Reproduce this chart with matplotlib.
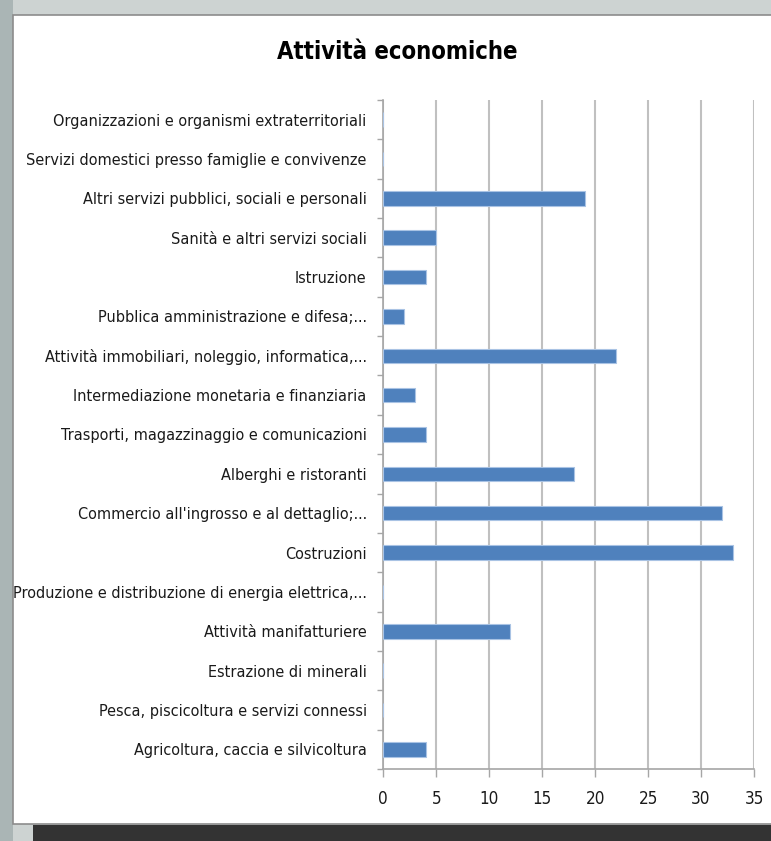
import numpy as np
import matplotlib.pyplot as plt
from matplotlib.patches import Rectangle
from matplotlib import font_manager

# categories from top to bottom as they appear in the chart
categories = [
    "Organizzazioni e organismi extraterritoriali",
    "Servizi domestici presso famiglie e convivenze",
    "Altri servizi pubblici, sociali e personali",
    "Sanità e altri servizi sociali",
    "Istruzione",
    "Pubblica amministrazione e difesa;...",
    "Attività immobiliari, noleggio, informatica,...",
    "Intermediazione monetaria e finanziaria",
    "Trasporti, magazzinaggio e comunicazioni",
    "Alberghi e ristoranti",
    "Commercio all'ingrosso e al dettaglio;...",
    "Costruzioni",
    "Produzione e distribuzione di energia elettrica,...",
    "Attività manifatturiere",
    "Estrazione di minerali",
    "Pesca, piscicoltura e servizi connessi",
    "Agricoltura, caccia e silvicoltura",
]
values = [0, 0, 19, 5, 4, 2, 22, 3, 4, 18, 32, 33, 0, 12, 0, 0, 4]
xticks = [0, 5, 10, 15, 20, 25, 30, 35]

# look for a narrow font, the original uses Calibri
names = {f.name for f in font_manager.fontManager.ttflist}
stretch = 'normal'
fam = 'Lato'
for cand in ['Liberation Sans Narrow', 'DejaVu Sans Condensed']:
    if cand in names:
        fam = cand
        break
else:
    if any(f.name == 'DejaVu Sans' and f.stretch == 'condensed'
           for f in font_manager.fontManager.ttflist):
        fam = 'DejaVu Sans'
        stretch = 'condensed'
plt.rcParams['font.family'] = [fam, 'DejaVu Sans']
plt.rcParams['font.stretch'] = stretch

fig = plt.figure(figsize=(7.71, 8.41), dpi=100)
fig.patch.set_facecolor('#cdd3d2')
W, H = 771.0, 841.0

# find font sizes that give the widths seen in the picture
rend = fig.canvas.get_renderer()
def fit_size(txt, target, weight='normal'):
    t = fig.text(0, 0, txt, fontsize=10, fontweight=weight)
    w = t.get_window_extent(renderer=rend).width
    t.remove()
    return 10 * target / w

lab_size = fit_size(categories[0], 312)
title_size = fit_size('Attività economiche', 239, 'bold')

# foggy left strip
fig.patches.append(Rectangle((0, 0), 13 / W, 1, transform=fig.transFigure,
                             facecolor='#aab5b5', edgecolor='none', zorder=0))
# dark band at the bottom
fig.patches.append(Rectangle((33 / W, 0), 1, 16 / H, transform=fig.transFigure,
                             facecolor='#333333', edgecolor='none', zorder=0))
# white chart panel
fig.patches.append(Rectangle((13 / W, 1 - 824 / H), 1, (824 - 15) / H,
                             transform=fig.transFigure, facecolor='white',
                             edgecolor='#8c8c8c', linewidth=1.2, zorder=1))

ax = fig.add_axes([383.3 / W, 1 - 769 / H, (754 - 383.3) / W, (769 - 100) / H])
ax.set_zorder(2)
ax.patch.set_alpha(0)

y = np.arange(len(categories))
ax.barh(y, values, height=0.37, color='#4f81bd', edgecolor='#a9c3e4',
        linewidth=0.8, zorder=3)

ax.set_ylim(len(categories) - 0.5, -0.5)
ax.set_xlim(0, 35)
ax.set_xticks(xticks)
ax.set_xticklabels([str(t) for t in xticks])
ax.set_yticks(y)
ax.set_yticklabels(categories)
ax.set_yticks(np.arange(len(categories) + 1) - 0.5, minor=True)

ax.grid(axis='x', color='#c0c0c0', linewidth=1.5, zorder=1)
ax.set_axisbelow(True)
for s in ['top', 'right']:
    ax.spines[s].set_visible(False)
for s in ['left', 'bottom']:
    ax.spines[s].set_color('#a6a6a6')
    ax.spines[s].set_linewidth(1.2)

ax.tick_params(axis='y', which='major', length=0, pad=12, labelsize=lab_size,
               labelcolor='#1a1a1a')
ax.tick_params(axis='y', which='minor', length=4, color='#a6a6a6', width=1)
ax.tick_params(axis='x', length=6, color='#a6a6a6', width=1, pad=9,
               labelsize=lab_size * 1.05, labelcolor='#1a1a1a')

fig.text(397 / W, 1 - 52 / H, 'Attività economiche', ha='center', va='center',
         fontsize=title_size, fontweight='bold', color='black')

fig.savefig('out.png', dpi=100, facecolor=fig.get_facecolor())
